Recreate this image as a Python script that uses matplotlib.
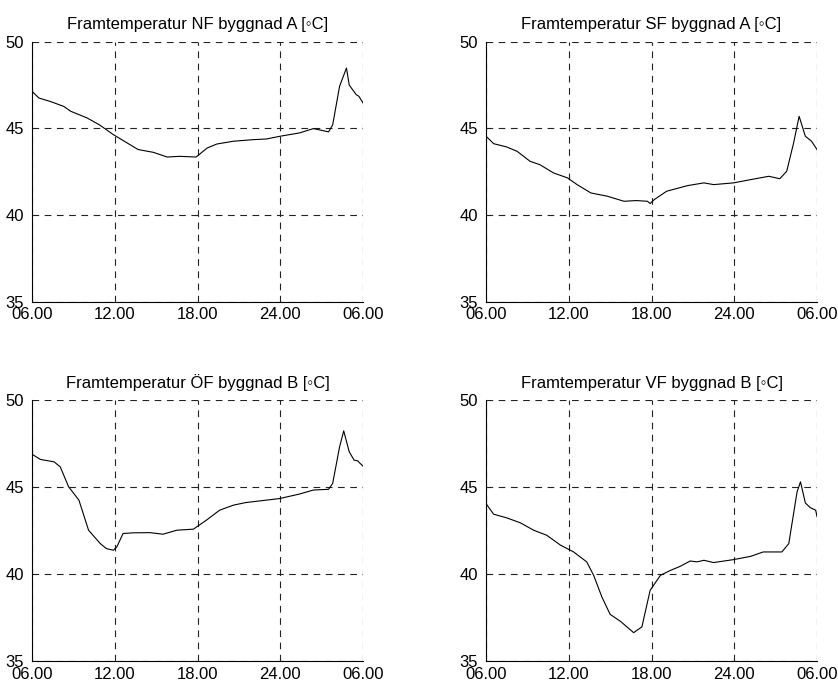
import matplotlib
matplotlib.use('Agg')
import matplotlib.pyplot as plt

plt.rcParams['font.family'] = ['Liberation Sans', 'DejaVu Sans']

# hours since midnight of day 1 (06.00 -> 30 = 06.00 next day)
t_nf = [6.0, 6.5, 7.3, 8.3, 8.8, 10.0, 10.9, 11.9, 12.9, 13.7, 14.8, 15.8, 16.7, 17.9,
        18.7, 19.4, 20.6, 22.0, 23.0, 24.0, 25.4, 26.4, 27.5, 27.8, 28.3, 28.8, 29.0,
        29.5, 29.7, 30.0]
nf_a = [47.14, 46.75, 46.56, 46.27, 45.99, 45.6, 45.2, 44.64, 44.16, 43.78, 43.62, 43.35,
        43.39, 43.35, 43.87, 44.1, 44.26, 44.35, 44.39, 44.55, 44.74, 44.99, 44.8, 45.2,
        47.43, 48.48, 47.5, 46.95, 46.85, 46.47]

t_sf = [6.0, 6.55, 7.5, 8.25, 9.2, 9.9, 10.9, 11.9, 12.6, 13.6, 14.8, 16.0, 16.9, 17.7,
        17.9, 18.2, 19.1, 20.6, 21.8, 22.5, 23.95, 25.2, 26.5, 27.3, 27.8, 28.3, 28.7,
        29.15, 29.6, 30.0]
sf_a = [44.55, 44.12, 43.93, 43.68, 43.1, 42.91, 42.43, 42.15, 41.76, 41.28, 41.09, 40.8,
        40.84, 40.8, 40.67, 40.9, 41.38, 41.7, 41.86, 41.76, 41.86, 42.05, 42.24, 42.1,
        42.53, 44.16, 45.7, 44.55, 44.26, 43.78]

t_of = [6.0, 6.6, 7.6, 8.05, 8.65, 9.4, 10.1, 10.95, 11.4, 11.9, 12.15, 12.6, 13.35, 14.55,
        15.5, 16.5, 17.7, 18.65, 19.6, 20.6, 21.5, 23.0, 23.95, 25.4, 26.4, 27.5, 27.8,
        28.3, 28.6, 29.0, 29.35, 29.6, 30.0]
of_b = [46.89, 46.59, 46.45, 46.16, 45.02, 44.25, 42.52, 41.75, 41.46, 41.37, 41.56, 42.33,
        42.37, 42.38, 42.29, 42.52, 42.58, 43.1, 43.67, 43.96, 44.11, 44.25, 44.34, 44.6,
        44.83, 44.87, 45.21, 47.31, 48.23, 47.03, 46.55, 46.51, 46.2]

t_vf = [6.0, 6.55, 7.5, 8.5, 9.45, 10.4, 11.4, 12.35, 13.3, 13.8, 14.4, 15.0, 15.75, 16.7,
        17.3, 17.9, 18.65, 19.4, 20.1, 20.8, 21.3, 21.8, 22.5, 23.95, 25.2, 26.1, 27.45,
        27.95, 28.55, 28.8, 29.15, 29.5, 29.9, 30.0]
vf_b = [44.05, 43.44, 43.23, 42.94, 42.52, 42.23, 41.66, 41.27, 40.7, 39.93, 38.68, 37.68,
        37.28, 36.63, 36.96, 39.07, 39.93, 40.22, 40.45, 40.75, 40.7, 40.79, 40.66, 40.83,
        41.02, 41.27, 41.27, 41.75, 44.72, 45.3, 44.09, 43.82, 43.67, 43.29]

titles = ['Framtemperatur NF byggnad A [\u25e6C]', 'Framtemperatur SF byggnad A [\u25e6C]',
          'Framtemperatur \u00d6F byggnad B [\u25e6C]', 'Framtemperatur VF byggnad B [\u25e6C]']
xticks = [6, 12, 18, 24, 30]
xlabels = ['06.00', '12.00', '18.00', '24.00', '06.00']
yticks = [35, 40, 45, 50]

fig = plt.figure(figsize=(8.38, 6.83), dpi=100)
boxes = [[0.0382, 0.558, 0.395, 0.381], [0.580, 0.558, 0.395, 0.381],
         [0.0382, 0.0322, 0.395, 0.382], [0.580, 0.0322, 0.395, 0.382]]
series = [(t_nf, nf_a), (t_sf, sf_a), (t_of, of_b), (t_vf, vf_b)]

for box, (t, v), title in zip(boxes, series, titles):
    ax = fig.add_axes(box)
    ax.plot(t, v, color='black', lw=0.8)
    ax.set_xlim(6, 30)
    ax.set_ylim(35, 50)
    ax.set_xticks(xticks)
    ax.set_xticklabels(xlabels)
    ax.set_yticks(yticks)
    ax.grid(True, color='#222222', lw=0.8, linestyle=(0, (6, 5)))
    ax.spines['top'].set_visible(False)
    ax.spines['right'].set_visible(False)
    ax.tick_params(length=0, labelsize=12)
    ax.tick_params(axis='y', pad=6)
    ax.tick_params(axis='x', pad=4)
    ax.set_title(title, fontsize=12, pad=9)

plt.savefig('out.png', dpi=100)
